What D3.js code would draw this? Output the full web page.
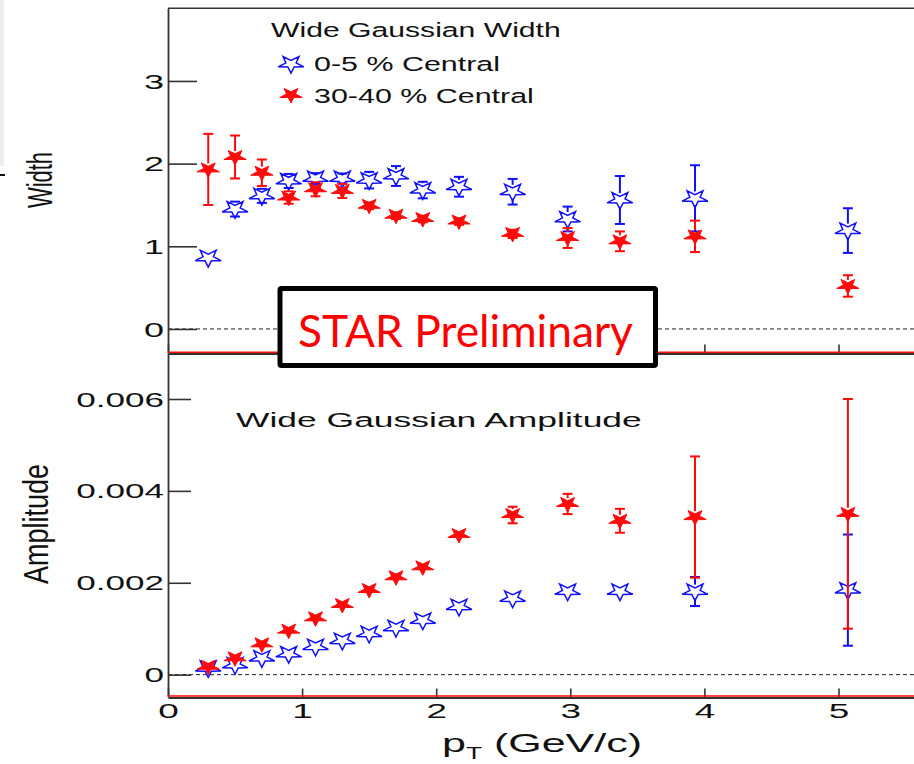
<!DOCTYPE html>
<html>
<head>
<meta charset="utf-8">
<script src="https://cdn.jsdelivr.net/npm/d3@7"></script>
<style>
  html, body { margin: 0; padding: 0; background: #fff; overflow: hidden; }
  text { font-family: "Liberation Sans", Arial, Helvetica, sans-serif; }
</style>
</head>
<body>
<svg id="chart" width="914" height="764"></svg>
<script>
// Transverse-momentum bins (GeV/c)
const pt = [0.3, 0.5, 0.7, 0.9, 1.1, 1.3, 1.5, 1.7, 1.9, 2.17, 2.57, 2.98, 3.37, 3.93, 5.07];

// Wide Gaussian width, 0-5 % central
const widthCentral    = [0.86, 1.45, 1.61, 1.79, 1.82, 1.82, 1.80, 1.85, 1.68, 1.72, 1.66, 1.33, 1.56, 1.58, 1.19];
const widthCentralErr = [0.02, 0.09, 0.085, 0.085, 0.065, 0.06, 0.10, 0.12, 0.10, 0.12, 0.155, 0.15, 0.29, 0.40, 0.27];
// Wide Gaussian width, 30-40 % central
const widthMid    = [1.93, 2.08, 1.89, 1.59, 1.69, 1.67, 1.49, 1.37, 1.33, 1.30, 1.15, 1.10, 1.06, 1.12, 0.52];
const widthMidErr = [0.43, 0.26, 0.16, 0.075, 0.085, 0.085, 0.04, 0.04, 0.04, 0.04, 0.05, 0.12, 0.12, 0.19, 0.13];

// Wide Gaussian amplitude, 0-5 % central
const ampCentral    = [0.00014, 0.00021, 0.00036, 0.00045, 0.00061, 0.00074, 0.00089, 0.00102, 0.00118, 0.00148, 0.00166, 0.00181, 0.00181, 0.00181, 0.00184];
const ampCentralErr = [0.00002, 0.00002, 0.00003, 0.00003, 0.00003, 0.00003, 0.00003, 0.00004, 0.00004, 0.00004, 0.00005, 0.00005, 0.00006, 0.000316, 0.00121];
// Wide Gaussian amplitude, 30-40 % central
const ampMid    = [0.000174, 0.000357, 0.000661, 0.000958, 0.001227, 0.001517, 0.001843, 0.00212, 0.002337, 0.00304, 0.003475, 0.003715, 0.00335, 0.00343, 0.0035];
const ampMidErr = [0.00002, 0.00002, 0.00003, 0.00003, 0.00003, 0.00004, 0.00004, 0.00004, 0.00005, 0.00005, 0.00018, 0.00022, 0.00026, 0.00132, 0.0025];

const widthTicks = [0, 1, 2, 3];
const ampTicks = [0, 0.002, 0.004, 0.006];
const ptTicks = [0, 1, 2, 3, 4, 5];

const BLUE = "#1010ff", RED = "#ff0a0a", AXIS = "#333", INK = "#111";
const svg = d3.select("#chart");

// scales
const x  = d3.scaleLinear().domain([0, 5.6]).range([168, 168 + 5.6 * 134.1]);
const yW = d3.scaleLinear().domain([-0.28, 3.88]).range([352.1, 8.2]);
const yA = d3.scaleLinear().domain([-0.00046, 0.0070]).range([695.8, 353.05]);

// thin strip of the slide background at the far left
svg.append("rect").attr("x", 0).attr("y", 0).attr("width", 4).attr("height", 166).attr("fill", "#eeeeee");
svg.append("line").attr("x1", 0).attr("x2", 5).attr("y1", 175).attr("y2", 175)
  .attr("stroke", "#111").attr("stroke-width", 2);

// top frame edge
svg.append("line").attr("x1", 168).attr("x2", 914).attr("y1", 8.2).attr("y2", 8.2)
  .attr("stroke", AXIS).attr("stroke-width", 1.6);

// zero reference lines
[[yW, 0], [yA, 0]].forEach(([s, v]) => {
  svg.append("line").attr("x1", 168).attr("x2", 914).attr("y1", s(v)).attr("y2", s(v))
    .attr("stroke", "#222").attr("stroke-width", 1).attr("stroke-dasharray", "4,3");
});

function styleAxis(g) {
  g.selectAll("path.domain").attr("stroke", AXIS).attr("stroke-width", 1.8);
  g.selectAll(".tick line").attr("stroke", AXIS).attr("stroke-width", 1.6);
  g.selectAll(".tick text").style("font-family", '"Liberation Sans", Arial, sans-serif').style("fill", INK);
}

// left axes
const gW = svg.append("g").attr("transform", "translate(168,0)")
  .call(d3.axisLeft(yW).tickValues(widthTicks).tickSizeInner(-29).tickSizeOuter(0).tickPadding(0).tickFormat(d3.format("d")));
const gA = svg.append("g").attr("transform", "translate(168,0)")
  .call(d3.axisLeft(yA).tickValues(ampTicks).tickSizeInner(-23).tickSizeOuter(0).tickPadding(0)
    .tickFormat(d => d === 0 ? "0" : d3.format(".3f")(d)));
[gW, gA].forEach(g => {
  styleAxis(g);
  g.selectAll(".tick text").attr("x", 0).attr("dy", "0.36em")
    .attr("font-size", 20).attr("transform", "translate(-4,0) scale(1.8,1)");
});
gA.selectAll(".tick text").attr("font-size", 19.5);

// bottom axes of both panels
const gXTop = svg.append("g").attr("transform", "translate(0,353.5)")
  .call(d3.axisBottom(x).tickValues(ptTicks).tickSizeInner(-9).tickSizeOuter(0).tickFormat(""));
const gXBot = svg.append("g").attr("transform", "translate(0,697.5)")
  .call(d3.axisBottom(x).tickValues(ptTicks).tickSizeInner(-9).tickSizeOuter(0).tickPadding(0).tickFormat(d3.format("d")));
styleAxis(gXTop);
styleAxis(gXBot);
gXBot.selectAll(".tick text").attr("y", 0).attr("dy", null)
  .attr("font-size", 20.5).attr("transform", "translate(0,20.5) scale(1.8,1)");

// red pad edges
[352.3, 696].forEach(yy => {
  svg.append("line").attr("x1", 168).attr("x2", 914).attr("y1", yy).attr("y2", yy)
    .attr("stroke", RED).attr("stroke-width", 1.6);
});

// star marker, point down, stretched horizontally
const SX = 1.47;
function starPath(R, inner = 0.4) {
  const pts = [];
  for (let i = 0; i < 10; i++) {
    const a = i * Math.PI / 5, r = i % 2 ? R * inner : R;
    pts.push([SX * r * Math.sin(a), r * Math.cos(a)]);
  }
  return "M" + pts.map(p => p[0].toFixed(2) + "," + p[1].toFixed(2)).join("L") + "Z";
}

function drawSeries(ys, vals, errs, color, filled, R) {
  const g = svg.append("g");
  const gap = 0.75 * R;
  const data = pt.map((p, i) => ({ p, v: vals[i], e: errs[i] }));
  data.forEach(d => {
    const cx = x(d.p), cy = ys(d.v), top = ys(d.v + d.e), bot = ys(d.v - d.e);
    if (top < cy - gap) g.append("line").attr("x1", cx).attr("x2", cx).attr("y1", top).attr("y2", cy - gap)
      .attr("stroke", color).attr("stroke-width", 2);
    if (bot > cy + gap) g.append("line").attr("x1", cx).attr("x2", cx).attr("y1", cy + gap).attr("y2", bot)
      .attr("stroke", color).attr("stroke-width", 2);
    if (cy - top >= 3) {
      [top, bot].forEach(yy => g.append("line").attr("x1", cx - 5).attr("x2", cx + 5).attr("y1", yy).attr("y2", yy)
        .attr("stroke", color).attr("stroke-width", 2));
    }
  });
  g.selectAll("path.mk").data(data).join("path").attr("class", "mk")
    .attr("d", starPath(R))
    .attr("transform", d => `translate(${x(d.p)},${ys(d.v)})`)
    .attr("fill", filled ? color : "none")
    .attr("stroke", color).attr("stroke-width", filled ? 1 : 1.5);
}

drawSeries(yW, widthCentral, widthCentralErr, BLUE, false, 9.2);
drawSeries(yW, widthMid, widthMidErr, RED, true, 8);
drawSeries(yA, ampCentral, ampCentralErr, BLUE, false, 9.2);
drawSeries(yA, ampMid, ampMidErr, RED, true, 8);

// text helper: left edge x0, baseline y0, stretched to a given width
function fitText(str, x0, y0, width, size, opts = {}) {
  const t = svg.append("text").attr("font-size", size).text(str).style("fill", opts.fill || INK);
  if (opts.family) t.style("font-family", opts.family);
  const w = t.node().getComputedTextLength();
  t.attr("transform", `translate(${x0},${y0}) scale(${width / w},1)`);
  return t;
}

// panel captions and legend
fitText("Wide Gaussian Width", 271, 37.3, 290, 19.5);
fitText("0-5 % Central", 314, 70.7, 186, 19.5);
fitText("30-40 % Central", 314, 102.7, 220, 19.5);
fitText("Wide Gaussian Amplitude", 236, 426.7, 406, 21);

svg.append("path").attr("d", starPath(9.2)).attr("transform", "translate(291,64)")
  .attr("fill", "none").attr("stroke", BLUE).attr("stroke-width", 1.5);
svg.append("path").attr("d", starPath(8)).attr("transform", "translate(291,95)")
  .attr("fill", RED).attr("stroke", RED).attr("stroke-width", 1);

// axis titles
svg.append("text").attr("font-size", 22).attr("text-anchor", "middle").style("fill", INK)
  .attr("transform", "translate(52,180) scale(1.56,1) rotate(-90)").text("Width");
svg.append("text").attr("font-size", 27).attr("text-anchor", "middle").style("fill", INK)
  .attr("transform", "translate(48,524) scale(1.27,1) rotate(-90)").text("Amplitude");

const xt = svg.append("text").attr("font-size", 26).style("fill", INK);
xt.append("tspan").text("p");
xt.append("tspan").attr("font-size", 16).attr("dy", 7).text("T");
xt.append("tspan").attr("dy", -7).text(" (GeV/c)");
const xtw = xt.node().getComputedTextLength();
xt.attr("transform", `translate(442,752) scale(${200 / xtw},1)`);

// preliminary label box
svg.append("rect").attr("x", 280).attr("y", 288.5).attr("width", 375.5).attr("height", 77)
  .attr("fill", "#fff").attr("stroke", "#000").attr("stroke-width", 5).attr("rx", 1.5);
fitText("STAR Preliminary", 298, 346.5, 335, 44, { family: "Lato, 'Open Sans', sans-serif", fill: "#ff0000" });
</script>
</body>
</html>
